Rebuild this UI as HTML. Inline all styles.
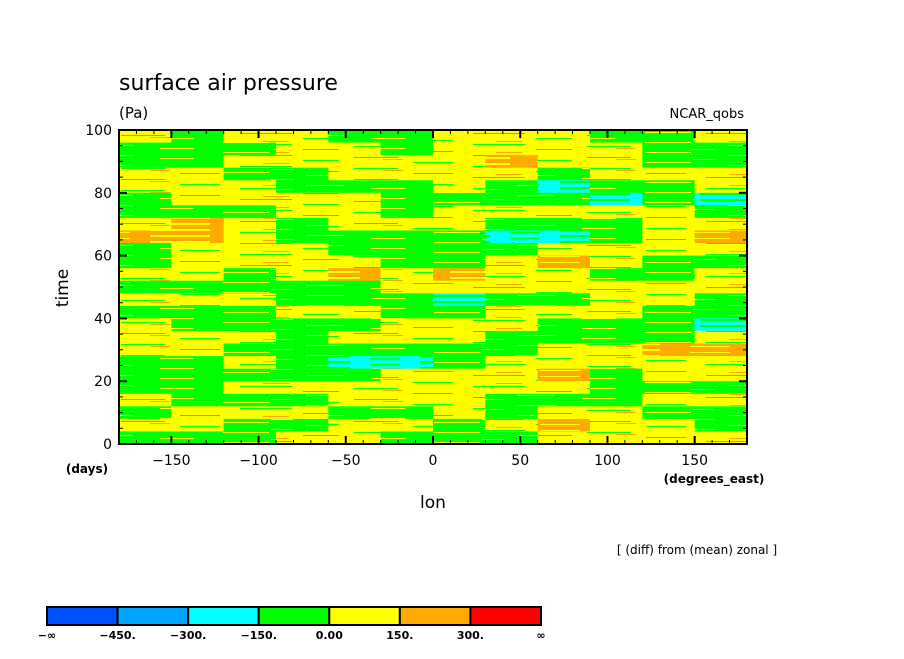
<!DOCTYPE html>
<html><head><meta charset="utf-8"><style>
body{margin:0;background:#fff;}
svg text{font-family:"DejaVu Sans","Liberation Sans",sans-serif;fill:#000;}
</style></head><body>
<svg id="chart" width="904" height="654" xmlns="http://www.w3.org/2000/svg">
<defs>
<pattern id="pY" patternUnits="userSpaceOnUse" width="233" height="11">
<rect width="233" height="11" fill="#ffff00"/>
<rect x="7" y="1" width="52" height="1" fill="#00ff00"/>
<rect x="121" y="3" width="44" height="1" fill="#00ff00"/>
<rect x="70" y="6" width="36" height="1" fill="#00ff00"/>
<rect x="180" y="8" width="40" height="1" fill="#00ff00"/>
<rect x="30" y="9" width="26" height="1" fill="#ffaa00"/>
<rect x="150" y="5" width="20" height="1" fill="#ffaa00"/>
</pattern>
<pattern id="pG" patternUnits="userSpaceOnUse" width="211" height="10">
<rect width="211" height="10" fill="#00ff00"/>
<rect x="12" y="2" width="46" height="1" fill="#ffff00"/>
<rect x="95" y="5" width="38" height="1" fill="#ffff00"/>
<rect x="160" y="8" width="34" height="1" fill="#ffff00"/>
<rect x="60" y="9" width="22" height="1" fill="#ffff00"/>
</pattern>
<pattern id="pO" patternUnits="userSpaceOnUse" width="150" height="6">
<rect width="150" height="6" fill="#ffaa00"/>
<rect x="0" y="1" width="60" height="2" fill="#ffff00"/>
<rect x="90" y="4" width="40" height="1" fill="#ffff00"/>
</pattern>
<pattern id="pC" patternUnits="userSpaceOnUse" width="140" height="6">
<rect width="140" height="6" fill="#00ffff"/>
<rect x="0" y="1" width="70" height="2" fill="#00ff00"/>
<rect x="90" y="4" width="30" height="1" fill="#00ff00"/>
</pattern>
</defs>
<text x="119" y="90" font-size="22">surface air pressure</text>
<text x="119" y="118" font-size="15">(Pa)</text>
<text x="744" y="118" font-size="13" text-anchor="end">NCAR_qobs</text>
<g id="cells"></g>
<g id="axes"></g>
<text x="68" y="288" font-size="17" text-anchor="middle" transform="rotate(-90 68 288)">time</text>
<text x="87" y="473" font-size="12" font-weight="bold" text-anchor="middle">(days)</text>
<text x="433" y="508" font-size="17" text-anchor="middle">lon</text>
<text x="714" y="483" font-size="12" font-weight="bold" text-anchor="middle">(degrees_east)</text>
<text x="697" y="554" font-size="12" text-anchor="middle">[ (diff) from (mean) zonal ]</text>
<g id="cbar"></g>
</svg>
<script>
const lonStart = -180, lonStep = 30;
const timeStep = 4;
// rows from t=100 (top) down to t=0, 12 longitude columns each
const values = [
[60,-60,60,60,-60,-60,60,60,60,-60,-60,60],
[-60,-60,-60,60,60,-60,60,60,60,60,-60,-60],
[-60,-60,60,60,60,60,60,180,60,60,-60,-60],
[60,60,-60,-60,60,60,60,60,-60,60,60,60],
[60,60,60,-60,-60,-60,60,-60,-180,-60,-60,60],
[-60,60,60,60,60,-60,-60,-60,-60,-180,-60,-180],
[-60,-60,-60,60,60,-60,60,60,60,60,60,-60],
[60,180,60,-60,60,60,60,-60,-60,-60,60,60],
[180,180,60,-60,-60,-60,-60,-180,-180,-60,60,180],
[-60,60,60,60,-60,-60,-60,-60,60,60,60,60],
[-60,60,60,60,60,-60,-60,60,180,60,-60,-60],
[60,60,-60,60,180,60,180,60,60,-60,-60,60],
[-60,-60,-60,-60,-60,60,60,60,60,60,60,60],
[60,60,60,-60,-60,-60,-180,-60,-60,60,60,-60],
[-60,-60,-60,60,60,-60,-60,60,60,60,-60,-60],
[60,-60,-60,-60,-60,60,60,60,-60,-60,-60,-180],
[60,60,60,-60,60,60,60,-60,-60,-60,-60,60],
[60,60,-60,-60,-60,-60,-60,-60,60,60,180,180],
[-60,-60,60,-60,-180,-180,-60,60,60,60,60,60],
[-60,-60,-60,-60,-60,60,60,60,180,-60,60,60],
[-60,-60,60,60,60,60,60,60,60,-60,-60,-60],
[60,-60,-60,-60,60,60,60,-60,-60,-60,60,60],
[-60,60,60,60,-60,-60,60,-60,60,60,-60,-60],
[60,60,-60,-60,60,60,-60,60,180,60,60,-60],
[-60,-60,-60,60,60,-60,-60,-60,60,60,60,60]
];
const levels = [-450,-300,-150,0,150,300];
const levelLabels = ["\u2212\u221e","\u2212450.","\u2212300.","\u2212150.","0.00","150.","300.","\u221e"];
const xTicks = [-150,-100,-50,0,50,100,150];
const yTicks = [0,20,40,60,80,100];
const colors = ["#0050ff","#00a5ff","#00ffff","#00ff00","#ffff00","#ffaa00","#ff0000"];
const fills = ["#0050ff","#00a5ff","url(#pC)","url(#pG)","url(#pY)","url(#pO)","#ff0000"];
const NS="http://www.w3.org/2000/svg";
const X0=119,X1=747,Y0=130,Y1=444;
const xs = l => X0 + (l+180)/360*(X1-X0);
const ys = t => Y1 - t/100*(Y1-Y0);
function idxOf(v){let i=0;while(i<levels.length&&v>=levels[i])i++;return i;}
function mk(tag,attrs,parent){const e=document.createElementNS(NS,tag);for(const k in attrs)e.setAttribute(k,attrs[k]);parent.appendChild(e);return e;}
const cells=document.getElementById('cells');
values.forEach((row,ri)=>{
  const tTop=100-ri*timeStep, tBot=tTop-timeStep;
  row.forEach((v,ci)=>{
    const l=lonStart+ci*lonStep;
    const r=mk('rect',{x:xs(l),y:ys(tTop),width:xs(l+lonStep)-xs(l)+0.5,height:ys(tBot)-ys(tTop)+0.5,fill:fills[idxOf(v)]},cells);
    
    
  });
});
const ax=document.getElementById('axes');
mk('rect',{x:X0,y:Y0,width:X1-X0,height:Y1-Y0,fill:'none',stroke:'#000','stroke-width':2},ax);
for(let l=-170;l<=170;l+=10){
  const major=l%50===0, len=major?8:4, w=major?2:1;
  mk('line',{x1:xs(l),x2:xs(l),y1:Y1,y2:Y1-len,stroke:'#000','stroke-width':w},ax);
  mk('line',{x1:xs(l),x2:xs(l),y1:Y0,y2:Y0+len,stroke:'#000','stroke-width':w},ax);
}
for(let t=5;t<100;t+=5){
  const major=t%20===0, len=major?8:4, w=major?2:1;
  mk('line',{x1:X0,x2:X0+len,y1:ys(t),y2:ys(t),stroke:'#000','stroke-width':w},ax);
  mk('line',{x1:X1,x2:X1-len,y1:ys(t),y2:ys(t),stroke:'#000','stroke-width':w},ax);
}
xTicks.forEach(l=>{const t=mk('text',{x:xs(l),y:465,'font-size':14,'text-anchor':'middle'},ax);t.textContent=l<0?'\u2212'+(-l):l;
  
  });
yTicks.forEach(v=>{const t=mk('text',{x:112,y:ys(v)+5,'font-size':14,'text-anchor':'end'},ax);t.textContent=v;
  
  });
const cb=document.getElementById('cbar');
const CX0=47,CX1=541,bw=(CX1-CX0)/colors.length;
colors.forEach((c,i)=>{const r=mk('rect',{x:CX0+i*bw,y:607,width:bw,height:18,fill:c,stroke:'#000','stroke-width':2},cb);
  
  });
levelLabels.forEach((s,i)=>{const t=mk('text',{x:CX0+i*bw,y:639,'font-size':11,'font-weight':'bold','text-anchor':'middle'},cb);t.textContent=s;
  
  });
</script>
</body></html>
